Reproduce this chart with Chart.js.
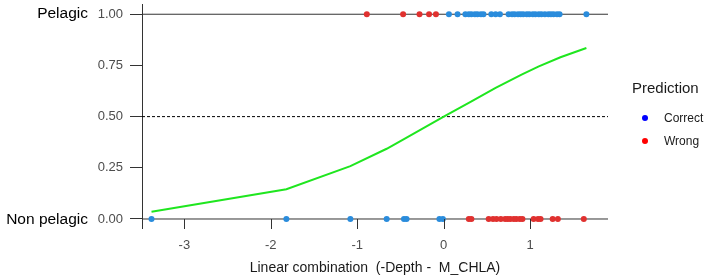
<!DOCTYPE html>
<html>
<head>
<meta charset="utf-8">
<script src="https://cdn.jsdelivr.net/npm/chart.js@4/dist/chart.umd.min.js"></script>
<style>
  html, body { margin: 0; padding: 0; background: #fff; }
  #wrap { position: relative; width: 709px; height: 279px; font-family: "Liberation Sans", Arial, sans-serif; }
  canvas { position: absolute; left: 0; top: 0; }
  .lab { position: absolute; color: #000; white-space: nowrap; }
</style>
</head>
<body>
<div id="wrap">
  <canvas id="c" width="709" height="279"></canvas>
  <div class="lab" style="right:621px; top:4px; font-size:15.5px;">Pelagic</div>
  <div class="lab" style="right:621px; top:210px; font-size:15.5px;">Non pelagic</div>
  <div class="lab" style="left:632px; top:79px; font-size:15px; color:#1a1a1a;">Prediction</div>
  <div style="position:absolute; left:642px; top:115px; width:6px; height:6px; border-radius:3px; background:#0000ff;"></div>
  <div style="position:absolute; left:642px; top:138px; width:6px; height:6px; border-radius:3px; background:#ff0000;"></div>
  <div class="lab" style="left:664px; top:111px; font-size:12px; color:#1a1a1a;">Correct</div>
  <div class="lab" style="left:664px; top:134px; font-size:12px; color:#1a1a1a;">Wrong</div>
</div>
<script>
// ---- data ----
const xTicks = [-3, -2, -1, 0, 1];
const yTicks = [0, 0.25, 0.5, 0.75, 1];
const xRange = [-3.49, 1.90];
const yRange = [-0.044, 1.05];

// Non pelagic (y = 0)
const correctAt0 = [-3.38, -1.82, -1.08, -0.66, -0.46, -0.43, -0.05, -0.01];
const wrongAt0 = [0.29, 0.32, 0.52, 0.57, 0.61, 0.66, 0.71, 0.74, 0.77, 0.81, 0.84, 0.88, 0.91, 1.04, 1.09, 1.12, 1.26, 1.32, 1.62];
// Pelagic (y = 1)
const correctAt1 = [0.06, 0.16, 0.25, 0.29, 0.32, 0.36, 0.39, 0.43, 0.46, 0.55, 0.60, 0.65, 0.75, 0.79, 0.82, 0.86, 0.89, 0.92, 0.96, 0.99, 1.03, 1.06, 1.10, 1.13, 1.17, 1.21, 1.24, 1.27, 1.31, 1.34, 1.65];
const wrongAt1 = [-0.89, -0.47, -0.28, -0.17, -0.09];

// fitted probability curve
const curveX = [-3.38, -1.82, -1.08, -0.66, -0.46, 0, 0.3, 0.6, 0.9, 1.1, 1.35, 1.65];
const curveY = [0.035, 0.145, 0.258, 0.343, 0.39, 0.5, 0.57, 0.64, 0.705, 0.745, 0.79, 0.835];

const threshold = 0.5;

// ---- build datasets ----
const pts = (xs, y) => xs.map(x => ({x: x, y: y}));
const blue = '#2a8cdc';
const red = '#e0312f';

const datasets = [
  { label: 'Correct', data: pts(correctAt0, 0).concat(pts(correctAt1, 1)), backgroundColor: blue, borderColor: blue, pointRadius: 3, pointBorderWidth: 0, showLine: false },
  { label: 'Wrong', data: pts(wrongAt0, 0).concat(pts(wrongAt1, 1)), backgroundColor: red, borderColor: red, pointRadius: 3, pointBorderWidth: 0, showLine: false },
  { label: 'fit', data: curveX.map((x, i) => ({x: x, y: curveY[i]})), borderColor: '#1fe61f', borderWidth: 2, pointRadius: 0, showLine: true, fill: false, tension: 0 },
  { label: 'thr', data: pts(xRange, threshold), borderColor: '#000', borderWidth: 1, borderDash: [3, 2], pointRadius: 0, showLine: true },
  { label: 'one', data: pts(xRange, 1), borderColor: '#333', borderWidth: 1, pointRadius: 0, showLine: true },
  { label: 'zero', data: pts(xRange, 0), borderColor: '#333', borderWidth: 1, pointRadius: 0, showLine: true }
];

// x tick marks hanging from the y=0 line
const xTickMarks = {
  id: 'xTickMarks',
  afterDraw(chart) {
    const ctx = chart.ctx, xs = chart.scales.x, ys = chart.scales.y;
    const top = ys.getPixelForValue(0), bot = chart.chartArea.bottom + 1;
    ctx.save();
    ctx.strokeStyle = '#333';
    ctx.lineWidth = 1;
    xTicks.forEach(v => {
      const px = Math.round(xs.getPixelForValue(v)) + 0.5;
      ctx.beginPath(); ctx.moveTo(px, top); ctx.lineTo(px, bot); ctx.stroke();
    });
    ctx.restore();
  }
};

new Chart(document.getElementById('c'), {
  type: 'scatter',
  data: { datasets: datasets },
  plugins: [xTickMarks],
  options: {
    responsive: false,
    animation: false,
    layout: { padding: { left: 0, right: 101, top: 3, bottom: 0 } },
    plugins: { legend: { display: false }, tooltip: { enabled: false } },
    elements: { line: { borderCapStyle: 'butt' } },
    scales: {
      x: {
        type: 'linear', min: xRange[0], max: xRange[1],
        afterBuildTicks: s => { s.ticks = xTicks.map(v => ({value: v})); },
        afterFit: s => { s.height = 51; s.paddingLeft = 0; s.paddingRight = 0; },
        border: { display: false },
        grid: { display: false },
        ticks: { color: '#4d4d4d', font: { family: 'Liberation Sans', size: 13 }, padding: 2, maxRotation: 0 },
        title: { display: true, text: 'Linear combination  (-Depth -  M_CHLA)', color: '#1a1a1a', font: { family: 'Liberation Sans', size: 14 }, padding: { top: 5, bottom: 2 } }
      },
      y: {
        type: 'linear', min: yRange[0], max: yRange[1],
        afterBuildTicks: s => { s.ticks = yTicks.map(v => ({value: v})); },
        afterFit: s => { s.width = 142; s.paddingTop = 0; s.paddingBottom = 0; },
        border: { display: true, color: '#333', width: 1 },
        grid: { drawOnChartArea: false, color: '#333', tickLength: 12, tickWidth: 1 },
        ticks: { color: '#4d4d4d', font: { family: 'Liberation Sans', size: 13 }, padding: 7, callback: v => Number(v).toFixed(2) }
      }
    }
  }
});
</script>
</body>
</html>
